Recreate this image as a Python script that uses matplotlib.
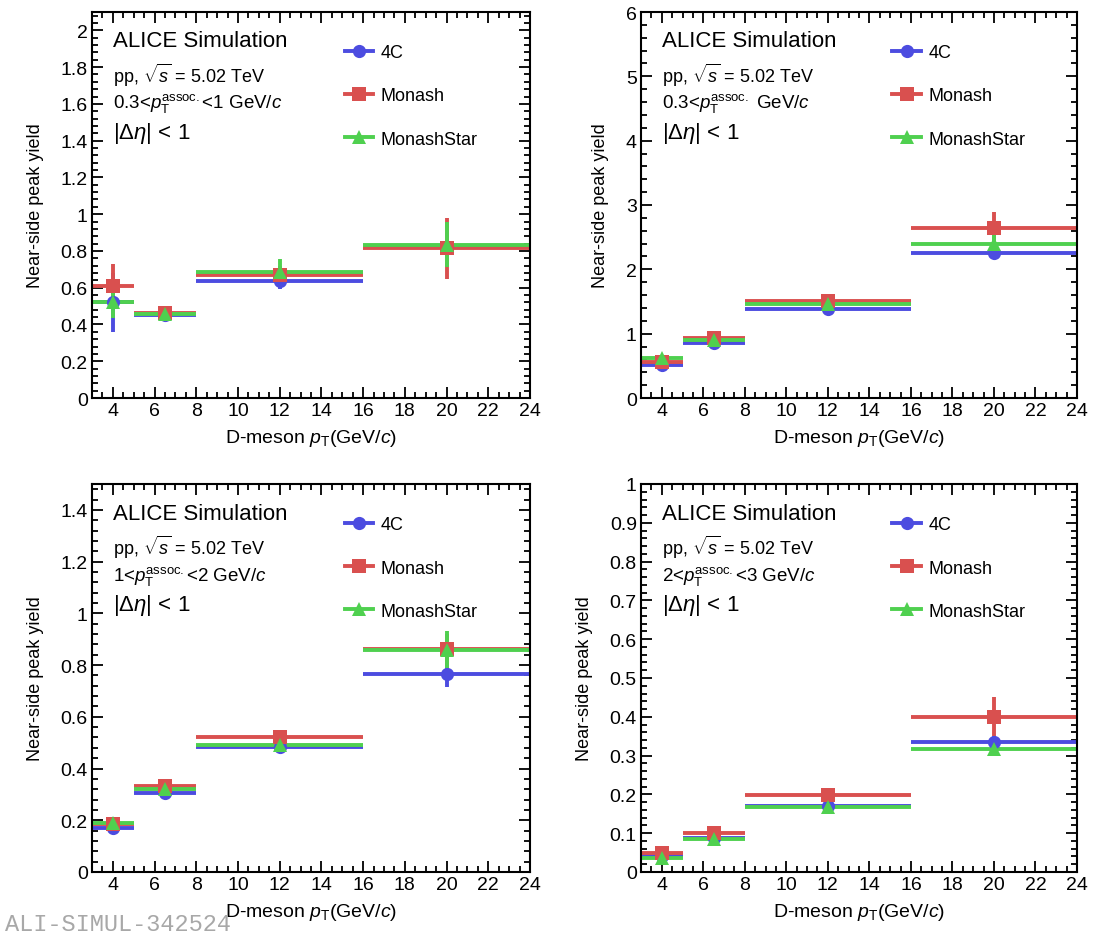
import numpy as np
import matplotlib
matplotlib.use("Agg")
import matplotlib.pyplot as plt
import matplotlib.ticker as ticker
from matplotlib.lines import Line2D

plt.rcParams['font.family'] = ['Liberation Sans', 'DejaVu Sans']
plt.rcParams['mathtext.fontset'] = 'custom'
plt.rcParams['mathtext.rm'] = 'Liberation Sans'
plt.rcParams['mathtext.it'] = 'Liberation Sans:italic'
plt.rcParams['mathtext.bf'] = 'Liberation Sans:bold'

# D-meson pT bins (GeV/c)
bin_lo = np.array([3, 5, 8, 16])
bin_hi = np.array([5, 8, 16, 24])
pt_center = np.array([4, 6.5, 12, 20])

models = ["4C", "Monash", "MonashStar"]

# near-side peak yield, one list per model, per assoc. pT range
yield_03_1 = {"4C": [0.52, 0.45, 0.635, 0.82],
              "Monash": [0.61, 0.46, 0.67, 0.815],
              "MonashStar": [0.525, 0.455, 0.685, 0.835]}
err_03_1 = {"4C": [0.16, 0.02, 0.04, 0.10],
            "Monash": [0.12, 0.02, 0.05, 0.165],
            "MonashStar": [0.09, 0.02, 0.07, 0.12]}

yield_03_inf = {"4C": [0.51, 0.86, 1.39, 2.26],
                "Monash": [0.555, 0.93, 1.515, 2.64],
                "MonashStar": [0.62, 0.90, 1.46, 2.39]}
err_03_inf = {"4C": [0.04, 0.03, 0.04, 0.08],
              "Monash": [0.05, 0.04, 0.06, 0.25],
              "MonashStar": [0.05, 0.04, 0.05, 0.15]}

yield_1_2 = {"4C": [0.17, 0.307, 0.483, 0.765],
             "Monash": [0.185, 0.333, 0.522, 0.862],
             "MonashStar": [0.19, 0.32, 0.492, 0.86]}
err_1_2 = {"4C": [0.01, 0.01, 0.015, 0.05],
           "Monash": [0.015, 0.015, 0.02, 0.06],
           "MonashStar": [0.015, 0.012, 0.02, 0.07]}

yield_2_3 = {"4C": [0.04, 0.087, 0.171, 0.335],
             "Monash": [0.05, 0.10, 0.199, 0.40],
             "MonashStar": [0.036, 0.085, 0.167, 0.317]}
err_2_3 = {"4C": [0.005, 0.006, 0.008, 0.015],
           "Monash": [0.006, 0.01, 0.015, 0.05],
           "MonashStar": [0.005, 0.006, 0.01, 0.015]}

assoc_labels = [r"0.3<$p_{\mathrm{T}}^{\mathrm{assoc.}}$<1 GeV/$c$",
                r"0.3<$p_{\mathrm{T}}^{\mathrm{assoc.}}$ GeV/$c$",
                r"1<$p_{\mathrm{T}}^{\mathrm{assoc.}}$<2 GeV/$c$",
                r"2<$p_{\mathrm{T}}^{\mathrm{assoc.}}$<3 GeV/$c$"]

colors = {"4C": "#4c4ce0", "Monash": "#d9504f", "MonashStar": "#4fd04f"}
markers = {"4C": "o", "Monash": "s", "MonashStar": "^"}

# y range, major and minor tick steps for each panel
ylims = [2.1, 6.0, 1.5, 1.0]
ymajor = [0.2, 1.0, 0.2, 0.1]
yminor = [0.04, 0.2, 0.04, 0.02]

panels = [(yield_03_1, err_03_1), (yield_03_inf, err_03_inf),
          (yield_1_2, err_1_2), (yield_2_3, err_2_3)]

W, H = 1102, 937
fig = plt.figure(figsize=(W / 100, H / 100), dpi=100)
fig.patch.set_facecolor("white")

# axes boxes in pixels: left, top, right, bottom
boxes = [(92, 13, 530, 399), (641, 13, 1077, 399),
         (92, 485, 530, 873), (641, 485, 1077, 873)]

xerr = np.vstack([pt_center - bin_lo, bin_hi - pt_center])

for i, (vals, errs) in enumerate(panels):
    l, t, r, b = boxes[i]
    ax = fig.add_axes([l / W, 1 - b / H, (r - l) / W, (b - t) / H])

    for m in models:
        ax.errorbar(pt_center, vals[m], xerr=xerr, yerr=errs[m],
                    fmt=markers[m], color=colors[m], ms=9.5, elinewidth=2.8,
                    capsize=0, markeredgewidth=0)

    ax.set_xlim(3, 24)
    ax.set_ylim(0, ylims[i])
    ax.xaxis.set_major_locator(ticker.MultipleLocator(2))
    ax.xaxis.set_minor_locator(ticker.MultipleLocator(0.5))
    ax.yaxis.set_major_locator(ticker.MultipleLocator(ymajor[i]))
    ax.yaxis.set_minor_locator(ticker.MultipleLocator(yminor[i]))
    ax.yaxis.set_major_formatter(ticker.FuncFormatter(lambda v, p: "%g" % round(v, 3)))
    ax.tick_params(which="both", direction="in", top=True, right=True, width=1.3,
                   labelsize=14, pad=3)
    ax.tick_params(which="major", length=8)
    ax.tick_params(which="minor", length=4)
    for s in ax.spines.values():
        s.set_linewidth(1.5)

    ax.set_xlabel(r"D-meson $p_{\mathrm{T}}$(GeV/$c$)", fontsize=14, labelpad=6)
    ax.set_ylabel("Near-side peak yield", fontsize=13, labelpad=12)

    ax.text(0.048, 0.925, "ALICE Simulation", transform=ax.transAxes,
            fontsize=16, va="center", ha="left")
    ax.text(0.048, 0.839, r"pp, $\sqrt{s}$ = 5.02 TeV", transform=ax.transAxes,
            fontsize=13, va="center", ha="left")
    ax.text(0.048, 0.765, assoc_labels[i], transform=ax.transAxes,
            fontsize=13.5, va="center", ha="left")
    ax.text(0.048, 0.689, r"$|\Delta\eta|$ < 1", transform=ax.transAxes,
            fontsize=16, va="center", ha="left")

    handles = [Line2D([], [], color=colors[m], marker=markers[m], lw=2.8, ms=9.5,
                      markeredgewidth=0) for m in models]
    ax.legend(handles, models, loc="upper left", bbox_to_anchor=(0.56, 0.935),
              frameon=False, fontsize=13, handlelength=1.6, handletextpad=0.4,
              labelspacing=1.45, borderaxespad=0)

fig.text(5 / W, 1 - 925 / H, "ALI-SIMUL-342524", fontsize=17, color="#a8a8a8",
         family="Liberation Mono", va="center", ha="left")

plt.savefig("out.png", dpi=100)
plt.close()
